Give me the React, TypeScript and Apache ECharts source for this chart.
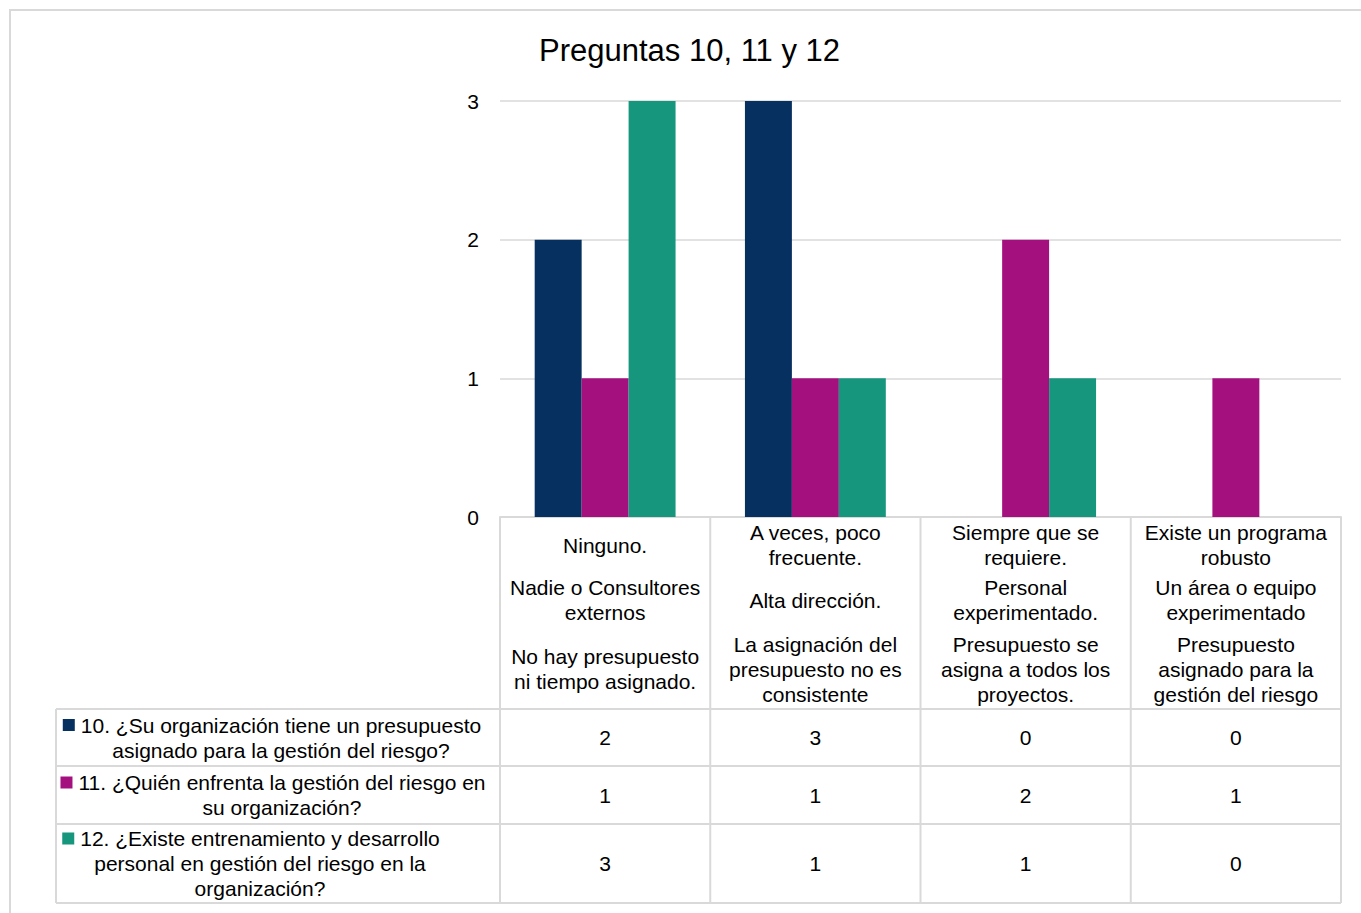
import React, { useEffect, useRef } from "react";
import * as echarts from "echarts";

const titleText = "Preguntas 10, 11 y 12";

const categoriesBlock1 = [
  "Ninguno.",
  "A veces, poco\nfrecuente.",
  "Siempre que se\nrequiere.",
  "Existe un programa\nrobusto",
];
const categoriesBlock2 = [
  "Nadie o Consultores\nexternos",
  "Alta dirección.",
  "Personal\nexperimentado.",
  "Un área o equipo\nexperimentado",
];
const categoriesBlock3 = [
  "No hay presupuesto\nni tiempo asignado.",
  "La asignación del\npresupuesto no es\nconsistente",
  "Presupuesto se\nasigna a todos los\nproyectos.",
  "Presupuesto\nasignado para la\ngestión del riesgo",
];

const seriesNames = [
  "10. ¿Su organización tiene un presupuesto\nasignado para la gestión del riesgo?",
  "11. ¿Quién enfrenta la gestión del riesgo en\nsu organización?",
  "12. ¿Existe entrenamiento y desarrollo\npersonal en gestión del riesgo en la\norganización?",
];
const q10Values = [2, 3, 0, 0];
const q11Values = [1, 1, 2, 1];
const q12Values = [3, 1, 1, 0];
const yTicks = [0, 1, 2, 3];

const seriesColors = ["#06305f", "#a5107f", "#16967c"];
const FONT = '"Liberation Sans", Arial, sans-serif';
const GRID_COLOR = "#d9d9d9";
const TEXT_COLOR = "#000000";
const FS = 21;

// table layout (pixels)
const TABLE_LEFT = 56;
const HEADER_BOTTOM = 709;
const ROW_BOTTOMS = [766, 824, 903];
const LEGEND_CENTERS = [281, 282, 260];

function measure(text: string, font: string): number {
  const c = document.createElement("canvas").getContext("2d");
  if (!c) return text.length * 10;
  c.font = font;
  return c.measureText(text).width;
}

export default function App() {
  const ref = useRef<HTMLDivElement>(null);

  useEffect(() => {
    if (!ref.current) return;
    const chart = echarts.init(ref.current, null, { renderer: "svg" });
    const allValues = [q10Values, q11Values, q12Values];
    const blocks = [categoriesBlock1, categoriesBlock2, categoriesBlock3];
    const margins = [28, 83, 152];

    const option: any = {
      animation: false,
      backgroundColor: "#ffffff",
      title: {
        text: titleText,
        left: 534,
        top: 27,
        textStyle: {
          fontFamily: FONT,
          fontSize: 31,
          fontWeight: "normal",
          color: TEXT_COLOR,
          lineHeight: 36,
        },
      },
      grid: { left: 500, right: 20, top: 101, bottom: 396, containLabel: false },
      xAxis: blocks.map((b, k) => ({
        type: "category",
        data: b,
        position: "bottom",
        offset: 0,
        gridIndex: 0,
        axisTick: { show: false },
        axisLine: { show: k === 0, lineStyle: { color: GRID_COLOR, width: 2 } },
        splitLine: { show: false },
        axisLabel: {
          interval: 0,
          margin: margins[k],
          verticalAlign: "middle",
          align: "center",
          fontFamily: FONT,
          fontSize: FS,
          lineHeight: 25,
          color: TEXT_COLOR,
        },
      })),
      yAxis: {
        type: "value",
        min: yTicks[0],
        max: yTicks[yTicks.length - 1],
        interval: 1,
        axisLine: { show: false },
        axisTick: { show: false },
        splitLine: { lineStyle: { color: GRID_COLOR, width: 1.5 } },
        axisLabel: {
          fontFamily: FONT,
          fontSize: FS,
          color: TEXT_COLOR,
          margin: 21,
        },
      },
      series: allValues.map((vals, i) => ({
        type: "bar",
        name: seriesNames[i],
        data: vals,
        xAxisIndex: 0,
        barGap: "0%",
        barCategoryGap: "33%",
        itemStyle: { color: seriesColors[i] },
      })),
    };
    chart.setOption(option);

    const xs = categoriesBlock1.map((_, i) =>
      chart.convertToPixel({ xAxisIndex: 0 }, i) as number
    );
    const step = xs[1] - xs[0];
    const bounds = [xs[0] - step / 2, ...xs.map((x) => x + step / 2)];
    const y0 = chart.convertToPixel({ yAxisIndex: 0 }, 0) as number;
    const right = bounds[bounds.length - 1];
    const tableBottom = ROW_BOTTOMS[ROW_BOTTOMS.length - 1];
    const lineStyle = { stroke: GRID_COLOR, lineWidth: 2 };
    const font = `${FS}px ${FONT}`;

    const elements: any[] = [];
    elements.push({
      type: "rect",
      shape: { x: 10, y: 10, width: 1380, height: 940 },
      style: { fill: "none", stroke: GRID_COLOR, lineWidth: 2 },
      silent: true,
    });
    [HEADER_BOTTOM, ...ROW_BOTTOMS].forEach((y) => {
      elements.push({
        type: "line",
        shape: { x1: TABLE_LEFT, y1: y, x2: right, y2: y },
        style: lineStyle,
      });
    });
    bounds.forEach((x) => {
      elements.push({
        type: "line",
        shape: { x1: x, y1: y0, x2: x, y2: tableBottom },
        style: lineStyle,
      });
    });
    elements.push({
      type: "line",
      shape: { x1: TABLE_LEFT, y1: HEADER_BOTTOM, x2: TABLE_LEFT, y2: tableBottom },
      style: lineStyle,
    });

    const rowTops = [HEADER_BOTTOM, ...ROW_BOTTOMS.slice(0, -1)];
    allValues.forEach((vals, s) => {
      const cy = (rowTops[s] + ROW_BOTTOMS[s]) / 2;
      vals.forEach((v, i) => {
        elements.push({
          type: "text",
          style: {
            text: String(v),
            x: xs[i],
            y: cy,
            font,
            fill: TEXT_COLOR,
            align: "center",
            textAlign: "center",
            verticalAlign: "middle",
            textVerticalAlign: "middle",
          },
        });
      });
      const lines = seriesNames[s].split("\n");
      const nLines = lines.length;
      elements.push({
        type: "text",
        style: {
          text: seriesNames[s],
          x: LEGEND_CENTERS[s],
          y: cy,
          font,
          lineHeight: 25,
          fill: TEXT_COLOR,
          align: "center",
          textAlign: "center",
          verticalAlign: "middle",
          textVerticalAlign: "middle",
        },
      });
      const firstLineY = cy - ((nLines - 1) * 25) / 2;
      const w1 = measure(lines[0], font);
      const markerX = LEGEND_CENTERS[s] - w1 / 2 - 18;
      elements.push({
        type: "rect",
        shape: { x: markerX, y: firstLineY - 6, width: 12, height: 12 },
        style: { fill: seriesColors[s] },
      });
    });

    chart.setOption({ graphic: { elements } });

    return () => chart.dispose();
  }, []);

  return (
    <div
      ref={ref}
      style={{ position: "absolute", left: 0, top: 0, width: 1361, height: 913 }}
    />
  );
}
